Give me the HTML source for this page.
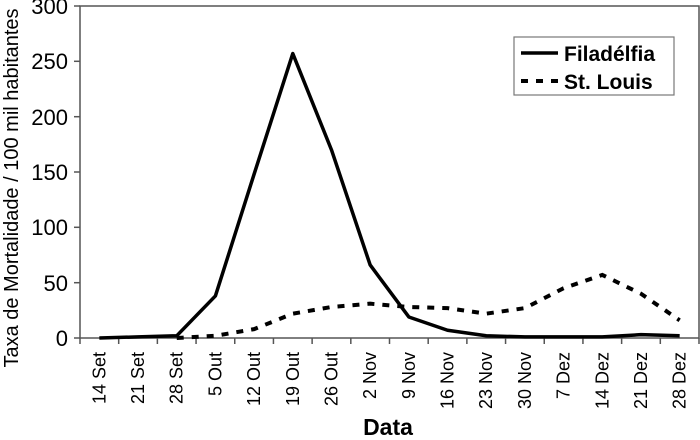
<!DOCTYPE html>
<html><head><meta charset="utf-8"><style>body{margin:0;background:#fff}svg{display:block}</style></head><body>
<svg width="700" height="440" xmlns="http://www.w3.org/2000/svg" font-family="Liberation Sans, sans-serif">
<rect x="80" y="6" width="619" height="332" fill="#fff" stroke="#555" stroke-width="1.5"/>
<g stroke="#555" stroke-width="1.5">
<line x1="74" y1="6" x2="80" y2="6"/><line x1="74" y1="61.3" x2="80" y2="61.3"/><line x1="74" y1="116.7" x2="80" y2="116.7"/><line x1="74" y1="172" x2="80" y2="172"/><line x1="74" y1="227.3" x2="80" y2="227.3"/><line x1="74" y1="282.7" x2="80" y2="282.7"/><line x1="74" y1="338" x2="80" y2="338"/>
</g>
<g font-size="22" text-anchor="end" fill="#000">
<text x="68" y="14">300</text><text x="68" y="69">250</text><text x="68" y="125">200</text><text x="68" y="180">150</text><text x="68" y="235">100</text><text x="68" y="291">50</text><text x="68" y="346">0</text>
</g>
<g id="ticks" stroke="#555" stroke-width="1.5"></g>
<g id="xl" font-size="18" text-anchor="end" fill="#000"></g>
<polyline id="ph" fill="none" stroke="#000" stroke-width="3.5" stroke-linejoin="round"/>
<polyline id="sl" fill="none" stroke="#000" stroke-width="4" stroke-dasharray="7,8"/>
<text transform="translate(18,188) rotate(-90)" font-size="20" text-anchor="middle">Taxa de Mortalidade / 100 mil habitantes</text>
<text x="388" y="435" font-size="23" font-weight="bold" text-anchor="middle">Data</text>
<rect x="514" y="37" width="160" height="58" fill="#fff" stroke="#777" stroke-width="1.2"/>
<line x1="521" y1="53" x2="558" y2="53" stroke="#000" stroke-width="3.5"/>
<line x1="521" y1="81" x2="558" y2="81" stroke="#000" stroke-width="4" stroke-dasharray="7,8"/>
<text x="564" y="61" font-size="21" font-weight="bold">Filadélfia</text>
<text x="564" y="89" font-size="21" font-weight="bold">St. Louis</text>
<script>
var labs=["14 Set","21 Set","28 Set","5 Out","12 Out","19 Out","26 Out","2 Nov","9 Nov","16 Nov","23 Nov","30 Nov","7 Dez","14 Dez","21 Dez","28 Dez"];
var ph=[0,1,2,38,148,257,170,66,19,7,2,1,1,1,3,2];
var sl=[null,null,0,2,8,22,28,31,28,27,22,27,45,57,40,16];
var w=619/16,ns="http://www.w3.org/2000/svg";
function cx(i){return 80+w*(i+0.5)}function cy(v){return 338-v*332/300}
var t=document.getElementById("ticks"),xl=document.getElementById("xl");
for(var i=0;i<=16;i++){var l=document.createElementNS(ns,"line");var x=80+w*i;l.setAttribute("x1",x);l.setAttribute("x2",x);l.setAttribute("y1",338);l.setAttribute("y2",344);t.appendChild(l);}
labs.forEach(function(s,i){var e=document.createElementNS(ns,"text");e.setAttribute("transform","translate("+(cx(i)+6)+",352) rotate(-90)");e.textContent=s;xl.appendChild(e);});
document.getElementById("ph").setAttribute("points",ph.map(function(v,i){return cx(i)+","+cy(v)}).join(" "));
var p=[];sl.forEach(function(v,i){if(v!==null)p.push(cx(i)+","+cy(v))});
document.getElementById("sl").setAttribute("points",p.join(" "));
</script>
</svg>
</body></html>
